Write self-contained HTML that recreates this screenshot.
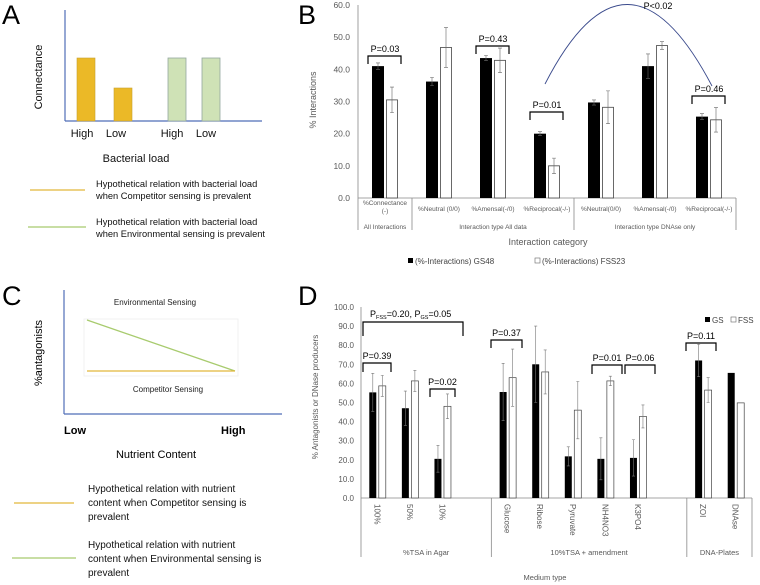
<!DOCTYPE html>
<html><head><meta charset="utf-8"><style>
html,body{margin:0;padding:0;background:#fff;width:760px;height:585px;overflow:hidden}
svg{display:block;font-family:"Liberation Sans",sans-serif}
</style></head><body>
<svg id="fig" width="760" height="585" viewBox="0 0 760 585">
<g>
<text x="2" y="24" font-size="27">A</text>
<line x1="65" y1="10" x2="65" y2="121" stroke="#4F6EB8" stroke-width="1.2"/>
<line x1="65" y1="121" x2="262" y2="121" stroke="#4F6EB8" stroke-width="1.2"/>
<rect x="77" y="58" width="18" height="63" fill="#EBB927" stroke="#C9A030" stroke-width="0.6"/>
<rect x="114" y="88" width="18" height="33" fill="#EBB927" stroke="#C9A030" stroke-width="0.6"/>
<rect x="168" y="58" width="18" height="63" fill="#CFE2B6" stroke="#93A7A0" stroke-width="0.8"/>
<rect x="202" y="58" width="18" height="63" fill="#CFE2B6" stroke="#93A7A0" stroke-width="0.8"/>
<g font-size="11" fill="#111">
<text x="82" y="137" text-anchor="middle">High</text>
<text x="116" y="137" text-anchor="middle">Low</text>
<text x="172" y="137" text-anchor="middle">High</text>
<text x="206" y="137" text-anchor="middle">Low</text>
<text x="136" y="162" text-anchor="middle">Bacterial load</text>
<text transform="translate(42,77) rotate(-90)" text-anchor="middle">Connectance</text>
</g>
<line x1="30" y1="190" x2="85" y2="190" stroke="#E2B83A" stroke-width="1.3"/>
<line x1="28" y1="227" x2="86" y2="227" stroke="#A8CB6E" stroke-width="1.3"/>
<g font-size="9.3" fill="#111">
<text x="96" y="187">Hypothetical relation with bacterial load</text>
<text x="96" y="199">when Competitor sensing is prevalent</text>
<text x="96" y="225">Hypothetical relation with bacterial load</text>
<text x="96" y="237">when Environmental sensing is prevalent</text>
</g>
</g>

<g>
<text x="2" y="305" font-size="27">C</text>
<line x1="64" y1="290" x2="64" y2="414" stroke="#4F6EB8" stroke-width="1.2"/>
<line x1="64" y1="414" x2="282" y2="414" stroke="#4F6EB8" stroke-width="1.2"/>
<rect x="84" y="319" width="154" height="57" fill="none" stroke="#eee" stroke-width="0.8"/>
<line x1="87" y1="320" x2="235" y2="371" stroke="#A8CB6E" stroke-width="1.3"/>
<line x1="87" y1="371" x2="235" y2="371" stroke="#E2B83A" stroke-width="1.3"/>
<g font-size="8" fill="#222">
<text x="155" y="305" text-anchor="middle">Environmental Sensing</text>
<text x="168" y="392" text-anchor="middle">Competitor Sensing</text>
</g>
<text x="64" y="434" font-size="11" font-weight="bold">Low</text>
<text x="221" y="434" font-size="11" font-weight="bold">High</text>
<text x="156" y="458" font-size="11" text-anchor="middle">Nutrient Content</text>
<text transform="translate(42,353) rotate(-90)" font-size="11" text-anchor="middle">%antagonists</text>
<line x1="14" y1="503" x2="74" y2="503" stroke="#E2B83A" stroke-width="1.3"/>
<line x1="12" y1="558" x2="76" y2="558" stroke="#A8CB6E" stroke-width="1.3"/>
<g font-size="10" fill="#111">
<text x="88" y="492">Hypothetical relation with nutrient</text>
<text x="88" y="506">content when Competitor sensing is</text>
<text x="88" y="520">prevalent</text>
<text x="88" y="548">Hypothetical relation with nutrient</text>
<text x="88" y="562">content when Environmental sensing is</text>
<text x="88" y="576">prevalent</text>
</g>
</g>

<g id="pb">
<text x="298" y="24" font-size="27">B</text>
</g>
<g id="pd">
<text x="298" y="305" font-size="27">D</text>
</g>
</svg>
<script>
// Panel B data
const bCategories = ["%Connectance", "%Neutral (0/0)", "%Amensal(-/0)", "%Reciprocal(-/-)", "%Neutral(0/0)", "%Amensal(-/0)", "%Reciprocal(-/-)"];
const bGS = [41.0, 36.2, 43.5, 20.0, 29.7, 41.0, 25.3];
const bGSErr = [1.0, 1.3, 0.8, 0.6, 0.8, 3.8, 0.9];
const bFSS = [30.5, 46.8, 42.8, 10.0, 28.2, 47.4, 24.3];
const bFSSErr = [4.0, 6.2, 3.8, 2.4, 5.1, 1.2, 3.8];
const bTicks = ["0.0","10.0","20.0","30.0","40.0","50.0","60.0"];
// Panel D data
const dCategories = ["100%","50%","10%","Glucose","Ribose","Pyruvate","NH4NO3","K3PO4","ZOI","DNAse"];
const dSlots = [0,1,2,4,5,6,7,8,10,11];
const dGS = [55.3, 47.0, 20.5, 55.5, 70.0, 21.8, 20.5, 21.0, 72.0, 65.5];
const dGSErr = [10, 9, 7, 15, 20, 5, 11, 9.5, 8.5, 0];
const dFSS = [58.7, 61.3, 48.0, 63.0, 66.0, 46.0, 61.3, 42.7, 56.5, 49.8];
const dFSSErr = [5.5, 5.5, 6.5, 15, 11.5, 15, 2.5, 6, 6.5, 0];
const dTicks = ["0.0","10.0","20.0","30.0","40.0","50.0","60.0","70.0","80.0","90.0","100.0"];

const NS="http://www.w3.org/2000/svg";
function mk(parent,tag,attrs,text){const e=document.createElementNS(NS,tag);for(const k in attrs)e.setAttribute(k,attrs[k]);if(text!==undefined)e.textContent=text;parent.appendChild(e);return e;}

// ---- Panel B ----
const pb=document.getElementById('pb');
const bx0=358,bx1=736,by0=198,byTop=5;
const bW=(bx1-bx0)/bCategories.length;
const bY=v=>by0-(v/60)*(by0-byTop);
const bX=i=>bx0+bW*(i+0.5);
bTicks.forEach(t=>{const e=mk(pb,'text',{x:350,y:bY(parseFloat(t))+3,'font-size':8.5,fill:'#595959','text-anchor':'end'},t);

});
let e=mk(pb,'line',{x1:bx0,y1:byTop,x2:bx0,y2:by0,stroke:'#888','stroke-width':0.8});

e=mk(pb,'line',{x1:bx0,y1:by0,x2:bx1,y2:by0,stroke:'#888','stroke-width':0.8});

[[bx0,230],[bx0+bW,230],[bx0+bW*4,230],[bx1,230]].forEach(p=>{const l=mk(pb,'line',{x1:p[0],y1:by0,x2:p[0],y2:p[1],stroke:'#888','stroke-width':0.8});

});
bCategories.forEach((c,i)=>{const cx=bX(i);
const g=mk(pb,'rect',{x:cx-13,y:bY(bGS[i]),width:12,height:by0-bY(bGS[i]),fill:'#000'});


const f=mk(pb,'rect',{x:cx+1.5,y:bY(bFSS[i]),width:11,height:by0-bY(bFSS[i]),fill:'#fff',stroke:'#444','stroke-width':0.8});


[[cx-7,bGS[i],bGSErr[i]],[cx+7,bFSS[i],bFSSErr[i]]].forEach(q=>{const eb=mk(pb,'path',{d:`M${q[0]},${bY(q[1]+q[2])}V${bY(q[1]-q[2])}M${q[0]-2},${bY(q[1]+q[2])}h4M${q[0]-2},${bY(q[1]-q[2])}h4`,stroke:'#666','stroke-width':0.6,fill:'none'});

});
const lbl = i===0?null:c;
if(i===0){const t1=mk(pb,'text',{x:cx,y:205,'font-size':6.5,fill:'#595959','text-anchor':'middle'},'%Connectance');

const t2=mk(pb,'text',{x:cx,y:213,'font-size':6.5,fill:'#595959','text-anchor':'middle'},'(-)');
}
else{const t=mk(pb,'text',{x:cx,y:211,'font-size':6.5,fill:'#595959','text-anchor':'middle'},lbl);
}
});
[["All Interactions",bX(0)],["Interaction type All data",bx0+bW*2.5],["Interaction type DNAse only",bx0+bW*5.5]].forEach(g=>{const t=mk(pb,'text',{x:g[1],y:229,'font-size':6.5,fill:'#595959','text-anchor':'middle'},g[0]);
});
e=mk(pb,'text',{x:548,y:245,'font-size':9,fill:'#595959','text-anchor':'middle'},'Interaction category');

e=mk(pb,'text',{transform:'translate(316,100) rotate(-90)','font-size':9,fill:'#595959','text-anchor':'middle'},'% Interactions');

e=mk(pb,'rect',{x:408,y:258,width:5,height:5,fill:'#000'});

e=mk(pb,'text',{x:415,y:264,'font-size':8,fill:'#444'},'(%-Interactions) GS48');

e=mk(pb,'rect',{x:535,y:258,width:5,height:5,fill:'#fff',stroke:'#666','stroke-width':0.6});

e=mk(pb,'text',{x:542,y:264,'font-size':8,fill:'#444'},'(%-Interactions) FSS23');

// brackets B
[[0,56,'P=0.03'],[2,46,'P=0.43'],[3,112,'P=0.01'],[6,96,'P=0.46']].forEach(b=>{const cx=bX(b[0]);
const p=mk(pb,'path',{d:`M${cx-17},${b[1]+8}V${b[1]}H${cx+16}V${b[1]+8}`,stroke:'#000','stroke-width':1.2,fill:'none'});

const t=mk(pb,'text',{x:cx,y:b[1]-4,'font-size':9,fill:'#000','text-anchor':'middle'},b[2]);
});
e=mk(pb,'path',{d:'M545,84 Q627,-76 712,86',stroke:'#3A4A8C','stroke-width':0.9,fill:'none'});

e=mk(pb,'text',{x:658,y:9,'font-size':9,fill:'#000','text-anchor':'middle'},'P<0.02');


// ---- Panel D ----
const pd=document.getElementById('pd');
const dx0=361,dx1=752,dy0=498,dyTop=307;
const dW=(dx1-dx0)/12;
const dY=v=>dy0-(v/100)*(dy0-dyTop);
const dX=s=>dx0+dW*(s+0.5);
dTicks.forEach(t=>{const el=mk(pd,'text',{x:354,y:dY(parseFloat(t))+3,'font-size':8,fill:'#595959','text-anchor':'end'},t);

});
e=mk(pd,'line',{x1:dx0,y1:dyTop,x2:dx0,y2:dy0,stroke:'#888','stroke-width':0.8});

e=mk(pd,'line',{x1:dx0,y1:dy0,x2:dx1,y2:dy0,stroke:'#888','stroke-width':0.8});

[dx0,dx0+dW*4,dx0+dW*10,dx1].forEach(x=>{const l=mk(pd,'line',{x1:x,y1:dy0,x2:x,y2:557,stroke:'#888','stroke-width':0.8});

});
dCategories.forEach((c,i)=>{const cx=dX(dSlots[i]);
const g=mk(pd,'rect',{x:cx-8,y:dY(dGS[i]),width:7,height:dy0-dY(dGS[i]),fill:'#000'});


const f=mk(pd,'rect',{x:cx+1.5,y:dY(dFSS[i]),width:7,height:dy0-dY(dFSS[i]),fill:'#fff',stroke:'#444','stroke-width':0.7});


[[cx-4.5,dGS[i],dGSErr[i]],[cx+5,dFSS[i],dFSSErr[i]]].forEach(q=>{if(!q[2])return;const eb=mk(pd,'path',{d:`M${q[0]},${dY(q[1]+q[2])}V${dY(q[1]-q[2])}M${q[0]-1.5},${dY(q[1]+q[2])}h3M${q[0]-1.5},${dY(q[1]-q[2])}h3`,stroke:'#777','stroke-width':0.6,fill:'none'});

});
const t=mk(pd,'text',{transform:`translate(${cx-3},504) rotate(90)`,'font-size':8,fill:'#595959'},c);

});
[["%TSA in Agar",dx0+dW*2],["10%TSA + amendment",dx0+dW*7],["DNA-Plates",dx0+dW*11]].forEach(g=>{const t=mk(pd,'text',{x:g[1],y:555,'font-size':7.5,fill:'#595959','text-anchor':'middle'},g[0]);
});
e=mk(pd,'text',{x:545,y:580,'font-size':7.5,fill:'#595959','text-anchor':'middle'},'Medium type');

e=mk(pd,'text',{transform:'translate(318,397) rotate(-90)','font-size':8,fill:'#595959','text-anchor':'middle'},'% Antagonists or DNase producers');

e=mk(pd,'rect',{x:705,y:317,width:5,height:5,fill:'#000'});

e=mk(pd,'text',{x:712,y:323,'font-size':8,fill:'#444'},'GS');

e=mk(pd,'rect',{x:731,y:317,width:5,height:5,fill:'#fff',stroke:'#666','stroke-width':0.6});

e=mk(pd,'text',{x:738,y:323,'font-size':8,fill:'#444'},'FSS');

[[363,391,363,9,'P=0.39'],[430,455,389,8,'P=0.02'],[491,522,340,8,'P=0.37'],[592,622,365,9,'P=0.01'],[625,655,365,9,'P=0.06'],[686,716,343,8,'P=0.11']].forEach(b=>{
const p=mk(pd,'path',{d:`M${b[0]},${b[2]+b[3]}V${b[2]}H${b[1]}V${b[2]+b[3]}`,stroke:'#000','stroke-width':1.2,fill:'none'});

const t=mk(pd,'text',{x:(b[0]+b[1])/2,y:b[2]-4,'font-size':9,fill:'#000','text-anchor':'middle'},b[4]);
});
e=mk(pd,'path',{d:'M363,336V322H463V336',stroke:'#000','stroke-width':1.2,fill:'none'});

const bt=mk(pd,'text',{x:370,y:317,'font-size':9,fill:'#000'});


bt.innerHTML='P<tspan font-size="5.5" dy="2">FSS</tspan><tspan dy="-2">=0.20, P</tspan><tspan font-size="5.5" dy="2">GS</tspan><tspan dy="-2">=0.05</tspan>';
</script>
</body></html>
